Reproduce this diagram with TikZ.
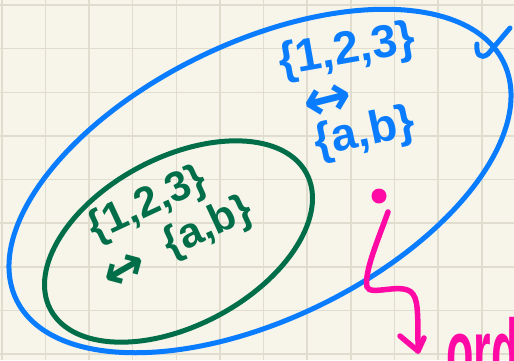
\documentclass[tikz,border=0pt]{standalone}
\usepackage{fontspec}
\setmainfont{Liberation Sans}
\newfontfamily\symfont{DejaVu Sans}
\definecolor{bgc}{HTML}{F7F5EA}
\definecolor{gridc}{HTML}{E0DDCF}
\definecolor{blu}{HTML}{0A7CFF}
\definecolor{grn}{HTML}{006E48}
\definecolor{pnk}{HTML}{FF0AA5}
\tikzset{
  gridline/.style={gridc, line width=1.6pt},
  blueline/.style={blu, line width=5pt, line cap=round, line join=round},
  greenline/.style={grn, line width=5pt, line cap=round, line join=round},
  pinkline/.style={pnk, line width=5.5pt, line cap=round, line join=round},
  bluetext/.style={blu, inner sep=0pt, font=\bfseries\fontsize{46}{46}\selectfont},
  greentext/.style={grn, inner sep=0pt, font=\bfseries\fontsize{42}{42}\selectfont},
}
\begin{document}
\begin{tikzpicture}[x=1pt,y=-1pt]
\fill[bgc] (0,0) rectangle (514,360);
\useasboundingbox (0,0) rectangle (514,360);
\begin{scope}
\clip (0,0) rectangle (514,360);
\foreach \i in {0,...,11} \draw[gridline] ({1.7+43.65*\i},0) -- ++(0,360);
\foreach \j in {0,...,8} \draw[gridline] (0,{5+43.65*\j}) -- ++(514,0);
% big blue set
\draw[blueline, rotate around={26:(260,181)}] (260,181) ellipse [x radius=271, y radius=138];
% green set
\draw[greenline, rotate around={28:(178.5,241.5)}] (178.5,241.5) ellipse [x radius=145, y radius=84];
% blue texts
\node[bluetext, rotate=10] (b123) at (347,52) {\{1,2,3\}};
\node[blu, inner sep=0pt, rotate=14, font=\symfont\bfseries\fontsize{58}{58}\selectfont] (barrow) at (328,102) {↔};
\node[bluetext, rotate=12] (bab) at (365,134) {\{a,b\}};
% check mark
\coordinate (ck1) at (477,44);
\coordinate (ck2) at (488,54);
\coordinate (ck3) at (510,28);
\draw[blueline] (ck1) .. controls (476,54) and (480,60) .. (ck2) -- (ck3);
% green texts
\node[greentext, rotate=25] (g123) at (148,205) {\{1,2,3\}};
\node[greentext, rotate=25] (gab) at (208,228) {\{a,b\}};
\node[grn, inner sep=0pt, rotate=30, font=\symfont\bfseries\fontsize{52}{52}\selectfont] (garrow) at (125,271) {↔};
% pink dot and arrow
\node[circle, fill=pnk, minimum size=15pt, inner sep=0pt] (dot) at (379,196) {};
\coordinate (pstart) at (388,212);
\coordinate (pend) at (418,351);
\draw[pinkline] (pstart) .. controls (378,240) and (364,272) .. (367,287)
  .. controls (370,296) and (400,283) .. (411,292)
  .. controls (418,298) and (418,310) .. (pend);
\coordinate (ph1) at (400,336);
\coordinate (ph2) at (424,338);
\draw[pinkline] (ph1) -- (pend) -- (ph2);
\node[pnk, inner sep=0pt, anchor=base west, xscale=0.5, font=\bfseries\fontsize{90}{90}\selectfont] (word) at (446,382) {ord};
\end{scope}
\end{tikzpicture}
\end{document}
